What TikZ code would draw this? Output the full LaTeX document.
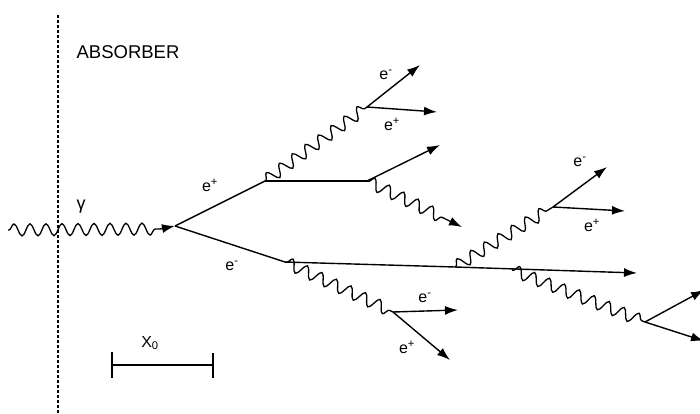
\documentclass[tikz,border=0pt]{standalone}
\usepackage{fontspec}
\setmainfont{Liberation Sans}
\usetikzlibrary{decorations.pathmorphing,arrows.meta,calc}
\begin{document}
\begin{tikzpicture}[x=1pt,y=-1pt,
  electron/.style={line width=1.4pt},
  tip/.style={-{Latex[length=13pt,width=9pt]}},
  elarrow/.style={electron,tip},
  photon/.style={line width=1.3pt,decorate,decoration={snake,segment length=16pt,amplitude=6pt,pre length=1pt,post length=2pt}},
  lab/.style={font=\fontsize{16}{16}\selectfont,inner sep=0pt},
  title/.style={font=\fontsize{18.5}{18}\selectfont,inner sep=0pt}]
\useasboundingbox (0,0) rectangle (700,414);
\fill[white] (0,0) rectangle (700,414);
% absorber boundary
\coordinate (dtop) at (58,15);
\coordinate (dbot) at (58,414);
\draw[line width=1.2pt,dash pattern=on 3pt off 2pt] (dtop) -- (dbot);
\node[title] (absorber) at (128,52) {ABSORBER};
% vertices
\coordinate (src) at (8,230);
\coordinate (v1) at (175,226);
\coordinate (a) at (265,181);
\coordinate (b) at (367,107);
\coordinate (c) at (367,181);
\coordinate (d) at (285,262);
\coordinate (f) at (393,312);
\coordinate (g) at (455,267);
\coordinate (h) at (512,270);
\coordinate (k) at (553,207);
\coordinate (m) at (645,322);
% end points
\coordinate (b1) at (420,65);
\coordinate (b2) at (437,112);
\coordinate (c1) at (440,145);
\coordinate (c2) at (462,227);
\coordinate (f1) at (458,310);
\coordinate (f2) at (450,360);
\coordinate (k1) at (607,167);
\coordinate (k2) at (625,211);
\coordinate (gend) at (637,273);
\coordinate (m1) at (704,290);
\coordinate (m2) at (704,341);
% incoming photon
\coordinate (v1w) at (160,229);
\draw[photon] (src) -- (v1w);
\draw[electron,tip] (v1w) -- (v1);
\node[lab,font=\fontsize{18}{18}\selectfont] (gamma) at (81,207) {γ};
% first pair
\draw[electron] (v1) -- (a);
\draw[electron] (v1) -- (d);
\node[lab] (lep) at (210,185) {e\textsuperscript{+}};
\node[lab] (lem) at (232,266) {e\textsuperscript{-}};
% positron branch
\draw[photon] (a) -- (b);
\draw[electron] (a) -- (c);
\draw[elarrow] (b) -- (b1);
\draw[elarrow] (b) -- (b2);
\node[lab] (lb1) at (386,75) {e\textsuperscript{-}};
\node[lab] (lb2) at (392,124) {e\textsuperscript{+}};
\draw[elarrow] (c) -- (c1);
\coordinate (c2w) at ($(c2)!14pt!(c)$);
\draw[photon] (c) -- (c2w);
\draw[electron,tip] (c2w) -- (c2);
% electron branch
\draw[photon] (d) -- (f);
\draw[elarrow] (f) -- (f1);
\draw[elarrow] (f) -- (f2);
\node[lab] (lf1) at (425,298) {e\textsuperscript{-}};
\node[lab] (lf2) at (407,347) {e\textsuperscript{+}};
\draw[electron] (d) -- (g);
\draw[elarrow] (g) -- (gend);
\draw[photon] (g) -- (k);
\draw[elarrow] (k) -- (k1);
\draw[elarrow] (k) -- (k2);
\node[lab] (lk1) at (580,162) {e\textsuperscript{-}};
\node[lab] (lk2) at (592,225) {e\textsuperscript{+}};
\draw[photon] (h) -- (m);
\draw[elarrow] (m) -- (m1);
\draw[elarrow] (m) -- (m2);
% radiation length scale
\coordinate (s1) at (112,365);
\coordinate (s2) at (213,365);
\draw[line width=1.3pt] (s1) -- (s2);
\draw[line width=2pt] (112,352) -- (112,378);
\draw[line width=1.3pt] (213,353) -- (213,378);
\node[lab] (x0) at (150,343) {X\textsubscript{0}};
\end{tikzpicture}
\end{document}
